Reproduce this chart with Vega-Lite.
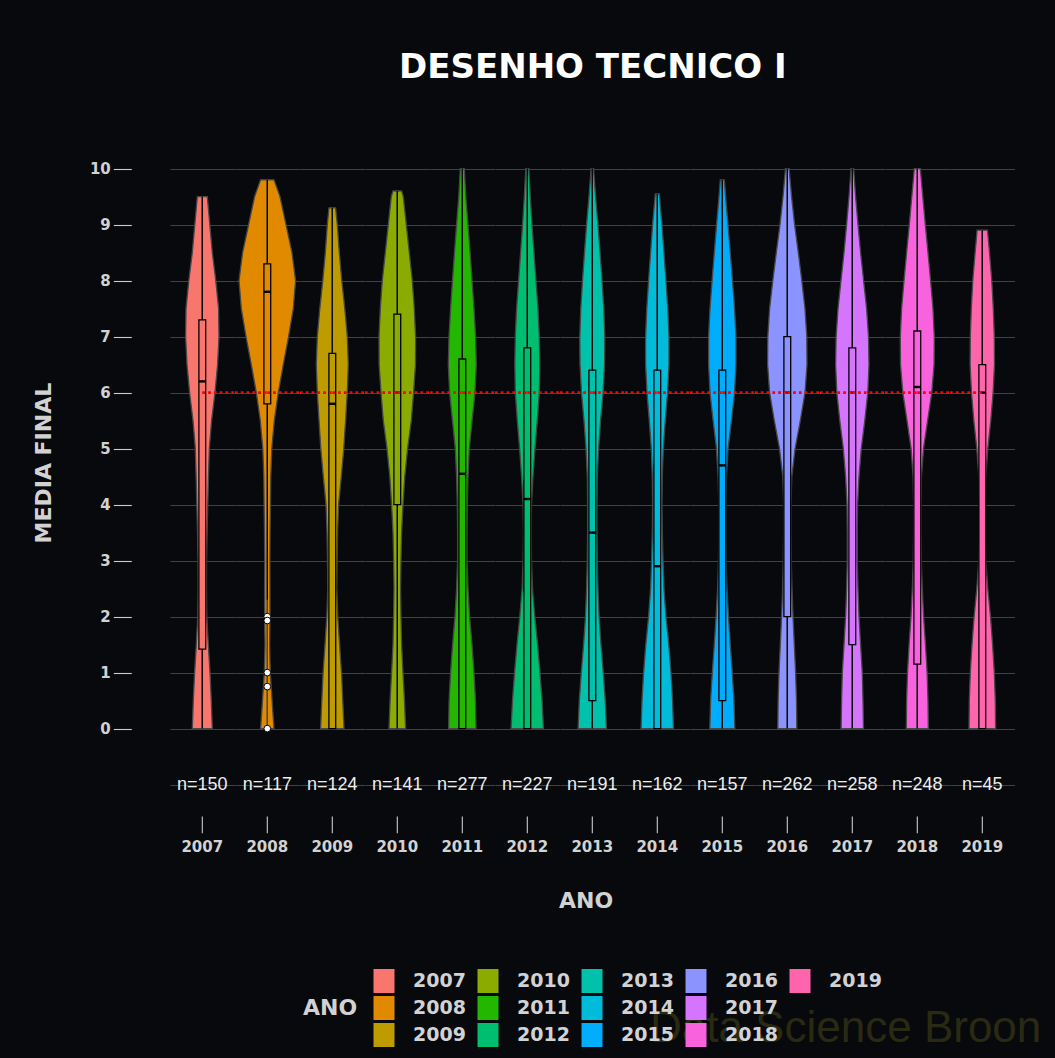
{
  "$schema": "https://vega.github.io/schema/vega-lite/v6.json",
  "background": "#07090c",
  "padding": {"left": 32, "top": 51, "right": 40, "bottom": 12},
  "title": {"text": "DESENHO TECNICO I", "font": "DejaVu Sans", "fontSize": 34, "fontWeight": "bold", "color": "#ffffff", "anchor": "middle", "dx": 56, "offset": 50},
  "data": {"values": [
    {"k":"b","year":2007,"lo":0,"q1":1.42,"med":6.2,"q3":7.3,"hi":9.5,"n":"n=150"},
    {"k":"b","year":2008,"lo":2.3,"q1":5.8,"med":7.8,"q3":8.3,"hi":9.8,"n":"n=117"},
    {"k":"b","year":2009,"lo":0,"q1":0,"med":5.8,"q3":6.7,"hi":9.3,"n":"n=124"},
    {"k":"b","year":2010,"lo":0,"q1":4.0,"med":6.0,"q3":7.4,"hi":9.6,"n":"n=141"},
    {"k":"b","year":2011,"lo":0,"q1":0,"med":4.55,"q3":6.6,"hi":10,"n":"n=277"},
    {"k":"b","year":2012,"lo":0,"q1":0,"med":4.1,"q3":6.8,"hi":10,"n":"n=227"},
    {"k":"b","year":2013,"lo":0,"q1":0.5,"med":3.5,"q3":6.4,"hi":10,"n":"n=191"},
    {"k":"b","year":2014,"lo":0,"q1":0,"med":2.9,"q3":6.4,"hi":9.55,"n":"n=162"},
    {"k":"b","year":2015,"lo":0,"q1":0.5,"med":4.7,"q3":6.4,"hi":9.8,"n":"n=157"},
    {"k":"b","year":2016,"lo":0,"q1":2.0,"med":6.0,"q3":7.0,"hi":10,"n":"n=262"},
    {"k":"b","year":2017,"lo":0,"q1":1.5,"med":6.0,"q3":6.8,"hi":10,"n":"n=258"},
    {"k":"b","year":2018,"lo":0,"q1":1.15,"med":6.1,"q3":7.1,"hi":10,"n":"n=248"},
    {"k":"b","year":2019,"lo":0,"q1":0,"med":6.0,"q3":6.5,"hi":8.9,"n":"n=45"},
    {"k":"o","year":2008,"out":2.0},
    {"k":"o","year":2008,"out":1.93},
    {"k":"o","year":2008,"out":1.0},
    {"k":"o","year":2008,"out":0.75},
    {"k":"o","year":2008,"out":0},
    {"k":"v","year":2007,"v":0,"d":20},{"k":"v","year":2007,"v":0.5,"d":18},{"k":"v","year":2007,"v":1,"d":15.4},{"k":"v","year":2007,"v":1.5,"d":12},{"k":"v","year":2007,"v":2,"d":9},{"k":"v","year":2007,"v":2.5,"d":8.4},{"k":"v","year":2007,"v":3,"d":8.6},{"k":"v","year":2007,"v":3.5,"d":9.6},{"k":"v","year":2007,"v":4,"d":11},{"k":"v","year":2007,"v":4.5,"d":12.4},{"k":"v","year":2007,"v":5,"d":14},{"k":"v","year":2007,"v":5.5,"d":18.6},{"k":"v","year":2007,"v":6,"d":25.4},{"k":"v","year":2007,"v":6.5,"d":30.6},{"k":"v","year":2007,"v":7,"d":33.4},{"k":"v","year":2007,"v":7.5,"d":32.6},{"k":"v","year":2007,"v":8,"d":27},{"k":"v","year":2007,"v":8.5,"d":20},{"k":"v","year":2007,"v":9,"d":15},{"k":"v","year":2007,"v":9.5,"d":10},
    {"k":"v","year":2008,"v":0,"d":13.4},{"k":"v","year":2008,"v":0.5,"d":9.6},{"k":"v","year":2008,"v":1,"d":6},{"k":"v","year":2008,"v":1.5,"d":4.6},{"k":"v","year":2008,"v":2,"d":5.4},{"k":"v","year":2008,"v":2.5,"d":5.4},{"k":"v","year":2008,"v":3,"d":5.2},{"k":"v","year":2008,"v":3.5,"d":5.6},{"k":"v","year":2008,"v":4,"d":6.4},{"k":"v","year":2008,"v":4.5,"d":7},{"k":"v","year":2008,"v":5,"d":9},{"k":"v","year":2008,"v":5.5,"d":14},{"k":"v","year":2008,"v":6,"d":22},{"k":"v","year":2008,"v":6.5,"d":32},{"k":"v","year":2008,"v":7,"d":42.6},{"k":"v","year":2008,"v":7.5,"d":52},{"k":"v","year":2008,"v":8,"d":56.6},{"k":"v","year":2008,"v":8.5,"d":49.4},{"k":"v","year":2008,"v":9,"d":37.4},{"k":"v","year":2008,"v":9.5,"d":25.4},{"k":"v","year":2008,"v":9.8,"d":13.4},
    {"k":"v","year":2009,"v":0,"d":23.4},{"k":"v","year":2009,"v":0.5,"d":21},{"k":"v","year":2009,"v":1,"d":18.4},{"k":"v","year":2009,"v":1.5,"d":14.6},{"k":"v","year":2009,"v":2,"d":11},{"k":"v","year":2009,"v":2.5,"d":9},{"k":"v","year":2009,"v":3,"d":9.6},{"k":"v","year":2009,"v":3.5,"d":10.6},{"k":"v","year":2009,"v":4,"d":12.6},{"k":"v","year":2009,"v":4.5,"d":18},{"k":"v","year":2009,"v":5,"d":23},{"k":"v","year":2009,"v":5.5,"d":26.6},{"k":"v","year":2009,"v":6,"d":30},{"k":"v","year":2009,"v":6.5,"d":32},{"k":"v","year":2009,"v":7,"d":30},{"k":"v","year":2009,"v":7.5,"d":25},{"k":"v","year":2009,"v":8,"d":19},{"k":"v","year":2009,"v":8.5,"d":14},{"k":"v","year":2009,"v":9,"d":10},{"k":"v","year":2009,"v":9.3,"d":6.6},
    {"k":"v","year":2010,"v":0,"d":16.6},{"k":"v","year":2010,"v":0.5,"d":14.4},{"k":"v","year":2010,"v":1,"d":11.4},{"k":"v","year":2010,"v":1.5,"d":8.6},{"k":"v","year":2010,"v":2,"d":7.4},{"k":"v","year":2010,"v":2.5,"d":6.6},{"k":"v","year":2010,"v":3,"d":7.4},{"k":"v","year":2010,"v":3.5,"d":8.6},{"k":"v","year":2010,"v":4,"d":11.4},{"k":"v","year":2010,"v":4.5,"d":15},{"k":"v","year":2010,"v":5,"d":20.6},{"k":"v","year":2010,"v":5.5,"d":28},{"k":"v","year":2010,"v":6,"d":32.6},{"k":"v","year":2010,"v":6.5,"d":36.4},{"k":"v","year":2010,"v":7,"d":36.6},{"k":"v","year":2010,"v":7.5,"d":34},{"k":"v","year":2010,"v":8,"d":30},{"k":"v","year":2010,"v":8.5,"d":24},{"k":"v","year":2010,"v":9,"d":18},{"k":"v","year":2010,"v":9.5,"d":12},{"k":"v","year":2010,"v":9.6,"d":8.6},
    {"k":"v","year":2011,"v":0,"d":27.4},{"k":"v","year":2011,"v":0.5,"d":26.4},{"k":"v","year":2011,"v":1,"d":23.4},{"k":"v","year":2011,"v":1.5,"d":19.4},{"k":"v","year":2011,"v":2,"d":14.6},{"k":"v","year":2011,"v":2.5,"d":11.4},{"k":"v","year":2011,"v":3,"d":9.4},{"k":"v","year":2011,"v":3.5,"d":9.4},{"k":"v","year":2011,"v":4,"d":10},{"k":"v","year":2011,"v":4.5,"d":11.4},{"k":"v","year":2011,"v":5,"d":14},{"k":"v","year":2011,"v":5.5,"d":19.6},{"k":"v","year":2011,"v":6,"d":25.4},{"k":"v","year":2011,"v":6.5,"d":28},{"k":"v","year":2011,"v":7,"d":26.6},{"k":"v","year":2011,"v":7.5,"d":23.4},{"k":"v","year":2011,"v":8,"d":19.6},{"k":"v","year":2011,"v":8.5,"d":15.6},{"k":"v","year":2011,"v":9,"d":11.4},{"k":"v","year":2011,"v":9.5,"d":7},{"k":"v","year":2011,"v":10,"d":4},
    {"k":"v","year":2012,"v":0,"d":32.4},{"k":"v","year":2012,"v":0.5,"d":29.6},{"k":"v","year":2012,"v":1,"d":25.4},{"k":"v","year":2012,"v":1.5,"d":20.6},{"k":"v","year":2012,"v":2,"d":15},{"k":"v","year":2012,"v":2.5,"d":10.4},{"k":"v","year":2012,"v":3,"d":8.4},{"k":"v","year":2012,"v":3.5,"d":7.6},{"k":"v","year":2012,"v":4,"d":8.4},{"k":"v","year":2012,"v":4.5,"d":11.4},{"k":"v","year":2012,"v":5,"d":15.4},{"k":"v","year":2012,"v":5.5,"d":20},{"k":"v","year":2012,"v":6,"d":24},{"k":"v","year":2012,"v":6.5,"d":25},{"k":"v","year":2012,"v":7,"d":24},{"k":"v","year":2012,"v":7.5,"d":21.4},{"k":"v","year":2012,"v":8,"d":17.4},{"k":"v","year":2012,"v":8.5,"d":13.4},{"k":"v","year":2012,"v":9,"d":9.4},{"k":"v","year":2012,"v":9.5,"d":6},{"k":"v","year":2012,"v":10,"d":3},
    {"k":"v","year":2013,"v":0,"d":28.4},{"k":"v","year":2013,"v":0.5,"d":26},{"k":"v","year":2013,"v":1,"d":22},{"k":"v","year":2013,"v":1.5,"d":17.4},{"k":"v","year":2013,"v":2,"d":13.6},{"k":"v","year":2013,"v":2.5,"d":11.4},{"k":"v","year":2013,"v":3,"d":10},{"k":"v","year":2013,"v":3.5,"d":9.4},{"k":"v","year":2013,"v":4,"d":9.4},{"k":"v","year":2013,"v":4.5,"d":10},{"k":"v","year":2013,"v":5,"d":12.6},{"k":"v","year":2013,"v":5.5,"d":16.6},{"k":"v","year":2013,"v":6,"d":21.6},{"k":"v","year":2013,"v":6.5,"d":24.6},{"k":"v","year":2013,"v":7,"d":25},{"k":"v","year":2013,"v":7.5,"d":23},{"k":"v","year":2013,"v":8,"d":19.6},{"k":"v","year":2013,"v":8.5,"d":15.6},{"k":"v","year":2013,"v":9,"d":11.4},{"k":"v","year":2013,"v":9.5,"d":6.6},{"k":"v","year":2013,"v":10,"d":2.4},
    {"k":"v","year":2014,"v":0,"d":32.4},{"k":"v","year":2014,"v":0.5,"d":30.6},{"k":"v","year":2014,"v":1,"d":27.4},{"k":"v","year":2014,"v":1.5,"d":23},{"k":"v","year":2014,"v":2,"d":17.4},{"k":"v","year":2014,"v":2.5,"d":13.4},{"k":"v","year":2014,"v":3,"d":11.4},{"k":"v","year":2014,"v":3.5,"d":10},{"k":"v","year":2014,"v":4,"d":9.4},{"k":"v","year":2014,"v":4.5,"d":10},{"k":"v","year":2014,"v":5,"d":12},{"k":"v","year":2014,"v":5.5,"d":16},{"k":"v","year":2014,"v":6,"d":20.6},{"k":"v","year":2014,"v":6.5,"d":23.4},{"k":"v","year":2014,"v":7,"d":23.4},{"k":"v","year":2014,"v":7.5,"d":21},{"k":"v","year":2014,"v":8,"d":17.4},{"k":"v","year":2014,"v":8.5,"d":13.4},{"k":"v","year":2014,"v":9,"d":9.4},{"k":"v","year":2014,"v":9.55,"d":4},
    {"k":"v","year":2015,"v":0,"d":25},{"k":"v","year":2015,"v":0.5,"d":23.4},{"k":"v","year":2015,"v":1,"d":20},{"k":"v","year":2015,"v":1.5,"d":16},{"k":"v","year":2015,"v":2,"d":12.4},{"k":"v","year":2015,"v":2.5,"d":9.4},{"k":"v","year":2015,"v":3,"d":7.6},{"k":"v","year":2015,"v":3.5,"d":7},{"k":"v","year":2015,"v":4,"d":7},{"k":"v","year":2015,"v":4.5,"d":8.4},{"k":"v","year":2015,"v":5,"d":11.6},{"k":"v","year":2015,"v":5.5,"d":18.4},{"k":"v","year":2015,"v":6,"d":24.6},{"k":"v","year":2015,"v":6.5,"d":27.4},{"k":"v","year":2015,"v":7,"d":27.4},{"k":"v","year":2015,"v":7.5,"d":24.6},{"k":"v","year":2015,"v":8,"d":20.4},{"k":"v","year":2015,"v":8.5,"d":16},{"k":"v","year":2015,"v":9,"d":11.4},{"k":"v","year":2015,"v":9.5,"d":6.6},{"k":"v","year":2015,"v":9.8,"d":4},
    {"k":"v","year":2016,"v":0,"d":19},{"k":"v","year":2016,"v":0.5,"d":18.4},{"k":"v","year":2016,"v":1,"d":16.6},{"k":"v","year":2016,"v":1.5,"d":14},{"k":"v","year":2016,"v":2,"d":11.4},{"k":"v","year":2016,"v":2.5,"d":9.4},{"k":"v","year":2016,"v":3,"d":8},{"k":"v","year":2016,"v":3.5,"d":7.4},{"k":"v","year":2016,"v":4,"d":7.4},{"k":"v","year":2016,"v":4.5,"d":9},{"k":"v","year":2016,"v":5,"d":15.6},{"k":"v","year":2016,"v":5.5,"d":26},{"k":"v","year":2016,"v":6,"d":35.4},{"k":"v","year":2016,"v":6.5,"d":39.4},{"k":"v","year":2016,"v":7,"d":39},{"k":"v","year":2016,"v":7.5,"d":35.4},{"k":"v","year":2016,"v":8,"d":29},{"k":"v","year":2016,"v":8.5,"d":22},{"k":"v","year":2016,"v":9,"d":14.6},{"k":"v","year":2016,"v":9.5,"d":8.6},{"k":"v","year":2016,"v":10,"d":3.6},
    {"k":"v","year":2017,"v":0,"d":22.4},{"k":"v","year":2017,"v":0.5,"d":21.4},{"k":"v","year":2017,"v":1,"d":20},{"k":"v","year":2017,"v":1.5,"d":16.6},{"k":"v","year":2017,"v":2,"d":13.4},{"k":"v","year":2017,"v":2.5,"d":11.4},{"k":"v","year":2017,"v":3,"d":10},{"k":"v","year":2017,"v":3.5,"d":10},{"k":"v","year":2017,"v":4,"d":10.6},{"k":"v","year":2017,"v":4.5,"d":13.4},{"k":"v","year":2017,"v":5,"d":18},{"k":"v","year":2017,"v":5.5,"d":25},{"k":"v","year":2017,"v":6,"d":31},{"k":"v","year":2017,"v":6.5,"d":33.4},{"k":"v","year":2017,"v":7,"d":32.4},{"k":"v","year":2017,"v":7.5,"d":28.6},{"k":"v","year":2017,"v":8,"d":22.6},{"k":"v","year":2017,"v":8.5,"d":16.6},{"k":"v","year":2017,"v":9,"d":11.4},{"k":"v","year":2017,"v":9.5,"d":6.6},{"k":"v","year":2017,"v":10,"d":2.6},
    {"k":"v","year":2018,"v":0,"d":22},{"k":"v","year":2018,"v":0.5,"d":21.4},{"k":"v","year":2018,"v":1,"d":19.6},{"k":"v","year":2018,"v":1.5,"d":16.4},{"k":"v","year":2018,"v":2,"d":12.6},{"k":"v","year":2018,"v":2.5,"d":10},{"k":"v","year":2018,"v":3,"d":8},{"k":"v","year":2018,"v":3.5,"d":7.4},{"k":"v","year":2018,"v":4,"d":7.4},{"k":"v","year":2018,"v":4.5,"d":8.4},{"k":"v","year":2018,"v":5,"d":12.4},{"k":"v","year":2018,"v":5.5,"d":20.6},{"k":"v","year":2018,"v":6,"d":29},{"k":"v","year":2018,"v":6.5,"d":33.6},{"k":"v","year":2018,"v":7,"d":34},{"k":"v","year":2018,"v":7.5,"d":31.4},{"k":"v","year":2018,"v":8,"d":26.6},{"k":"v","year":2018,"v":8.5,"d":21.4},{"k":"v","year":2018,"v":9,"d":16},{"k":"v","year":2018,"v":9.5,"d":11},{"k":"v","year":2018,"v":10,"d":6},
    {"k":"v","year":2019,"v":0,"d":26.6},{"k":"v","year":2019,"v":0.5,"d":26},{"k":"v","year":2019,"v":1,"d":24},{"k":"v","year":2019,"v":1.5,"d":20.6},{"k":"v","year":2019,"v":2,"d":16.4},{"k":"v","year":2019,"v":2.5,"d":11},{"k":"v","year":2019,"v":3,"d":7},{"k":"v","year":2019,"v":3.5,"d":5.6},{"k":"v","year":2019,"v":4,"d":5.6},{"k":"v","year":2019,"v":4.5,"d":7},{"k":"v","year":2019,"v":5,"d":11},{"k":"v","year":2019,"v":5.5,"d":17},{"k":"v","year":2019,"v":6,"d":21.6},{"k":"v","year":2019,"v":6.5,"d":24.4},{"k":"v","year":2019,"v":7,"d":24},{"k":"v","year":2019,"v":7.5,"d":22},{"k":"v","year":2019,"v":8,"d":19},{"k":"v","year":2019,"v":8.5,"d":14.4},{"k":"v","year":2019,"v":8.9,"d":10.4}
  ]},
  "facet": {"column": {"field": "year", "type": "ordinal",
    "header": {"title": "ANO", "titleOrient": "bottom", "titleFont": "DejaVu Sans", "titleFontSize": 22, "titleFontWeight": "bold", "titleColor": "#d2d2d2", "titlePadding": 26,
      "labelOrient": "bottom", "labelFont": "DejaVu Sans", "labelFontSize": 15, "labelFontWeight": "bold", "labelColor": "#d2d2d2", "labelPadding": 49}}},
  "spacing": 0,
  "bounds": "flush",
  "spec": {
    "width": 64.6,
    "height": 655.2,
    "resolve": {"scale": {"x": "independent"}},
    "layer": [
      {
        "transform": [{"filter": "datum.k === 'b' && datum.year === 2019"}],
        "mark": {"type": "text", "font": "Liberation Sans", "fontSize": 44, "color": "#2a2a12", "baseline": "alphabetic", "align": "right"},
        "encoding": {
          "x": {"datum": 59, "type": "quantitative", "scale": {"domain": [-32.3, 32.3], "nice": false, "zero": false}, "axis": null},
          "y": {"datum": -5.6, "type": "quantitative"},
          "text": {"value": "Data Science Broon"}
        }
      },
      {
        "transform": [{"filter": "datum.k === 'v'"}],
        "mark": {"type": "area", "orient": "horizontal", "stroke": "#474747", "strokeWidth": 1.3, "fillOpacity": 1},
        "encoding": {
          "y": {"field": "v", "type": "quantitative",
            "scale": {"domain": [-1.1, 10.6], "nice": false, "zero": false},
            "axis": {
              "values": [-1,-0.5,0,0.5,1,1.5,2,2.5,3,3.5,4,4.5,5,5.5,6,6.5,7,7.5,8,8.5,9,9.5,10,10.5],
              "labelExpr": "(datum.value % 1 === 0 && datum.value >= 0 && datum.value <= 10) ? ('' + datum.value) : ''",
              "tickOpacity": {"condition": {"test": "datum.value % 1 === 0 && datum.value >= 0 && datum.value <= 10", "value": 1}, "value": 0},
              "tickSize": 18, "tickColor": "#cccccc", "tickWidth": 1.1, "offset": 38.7,
              "labelPadding": 3, "labelFont": "DejaVu Sans", "labelFontSize": 15, "labelFontWeight": "bold", "labelColor": "#d2d2d2",
              "domain": false, "grid": true, "gridColor": "#424242", "gridWidth": 1.1,
              "title": "MEDIA FINAL", "titleFont": "DejaVu Sans", "titleFontSize": 22, "titleFontWeight": "bold", "titleColor": "#d2d2d2", "titlePadding": 34
            }},
          "x": {"field": "d", "type": "quantitative",
            "scale": {"domain": [-64.6, 64.6], "nice": false, "zero": false, "reverse": true}, "axis": null},
          "x2": {"datum": 0},
          "fill": {"field": "year", "type": "nominal",
            "scale": {"domain": [2007,2010,2013,2016,2019,2008,2011,2014,2017,"",2009,2012,2015,2018],
                      "range": ["#F8766D","#8CAB00","#00C1AB","#8B93FF","#FF65AC","#E18A00","#24B700","#00BBDA","#D575FE","transparent","#BE9C00","#00BE70","#00ACFC","#F962DD"]},
            "legend": {"orient": "none", "legendX": 133, "legendY": 834, "direction": "horizontal", "columns": 5,
              "title": "ANO", "titleOrient": "left", "titleAnchor": "middle", "titleFont": "DejaVu Sans", "titleFontSize": 22, "titleFontWeight": "bold", "titleColor": "#d2d2d2", "titlePadding": 14,
              "labelFont": "DejaVu Sans", "labelFontSize": 19, "labelFontWeight": "bold", "labelColor": "#d2d2d2", "labelOffset": 17, "labelBaseline": "middle",
              "symbolType": "M-0.875,-1H0.875V1H-0.875Z", "symbolSize": 576, "symbolStrokeWidth": 0, "symbolOpacity": 1,
              "columnPadding": 10, "rowPadding": 3}}
        }
      },
      {
        "transform": [{"filter": "datum.k === 'v'"}],
        "mark": {"type": "area", "orient": "horizontal", "stroke": "#474747", "strokeWidth": 1.3, "fillOpacity": 1},
        "encoding": {
          "y": {"field": "v", "type": "quantitative"},
          "x": {"field": "d", "type": "quantitative",
            "scale": {"domain": [-64.6, 64.6], "nice": false, "zero": false}, "axis": null},
          "x2": {"datum": 0},
          "fill": {"field": "year", "type": "nominal"}
        }
      },
      {
        "transform": [{"filter": "datum.k === 'b'"}],
        "mark": {"type": "rule", "color": "#000000", "strokeWidth": 1.1},
        "encoding": {
          "x": {"datum": 0, "type": "quantitative", "scale": {"domain": [-32.3, 32.3], "nice": false, "zero": false}, "axis": null},
          "y": {"field": "lo", "type": "quantitative"},
          "y2": {"field": "hi"}
        }
      },
      {
        "transform": [{"filter": "datum.k === 'b'"}],
        "mark": {"type": "rule", "color": "#cccccc", "strokeWidth": 1.1},
        "encoding": {
          "x": {"datum": 0, "type": "quantitative", "scale": {"domain": [-32.3, 32.3], "nice": false, "zero": false}, "axis": null},
          "y": {"datum": -1.57, "type": "quantitative"},
          "y2": {"datum": -1.87}
        }
      },
      {
        "transform": [{"filter": "datum.k === 'b'"}],
        "mark": {"type": "rect", "stroke": "#000000", "strokeWidth": 1.3},
        "encoding": {
          "x": {"datum": -3.4, "type": "quantitative", "scale": {"domain": [-32.3, 32.3], "nice": false, "zero": false}, "axis": null},
          "x2": {"datum": 3.4},
          "y": {"field": "q1", "type": "quantitative"},
          "y2": {"field": "q3"},
          "fill": {"field": "year", "type": "nominal"}
        }
      },
      {
        "transform": [{"filter": "datum.k === 'b'"}],
        "mark": {"type": "rule", "color": "#000000", "strokeWidth": 2.4},
        "encoding": {
          "x": {"datum": -3.4, "type": "quantitative", "scale": {"domain": [-32.3, 32.3], "nice": false, "zero": false}, "axis": null},
          "x2": {"datum": 3.4},
          "y": {"field": "med", "type": "quantitative"}
        }
      },
      {
        "transform": [{"filter": "datum.k === 'o'"}],
        "mark": {"type": "point", "filled": true, "fill": "#ffffff", "stroke": "#000000", "strokeWidth": 1, "size": 45, "opacity": 1},
        "encoding": {
          "x": {"datum": 0, "type": "quantitative", "scale": {"domain": [-32.3, 32.3], "nice": false, "zero": false}, "axis": null},
          "y": {"field": "out", "type": "quantitative"}
        }
      },
      {
        "transform": [{"filter": "datum.k === 'b' && datum.year !== 2007"}],
        "mark": {"type": "rule", "color": "#ff0000", "strokeWidth": 2.7, "strokeDash": [2.7, 3.1]},
        "encoding": {
          "x": {"datum": -32.3, "type": "quantitative", "scale": {"domain": [-32.3, 32.3], "nice": false, "zero": false}, "axis": null},
          "x2": {"datum": 0},
          "y": {"datum": 6, "type": "quantitative"}
        }
      },
      {
        "transform": [{"filter": "datum.k === 'b' && datum.year !== 2019"}],
        "mark": {"type": "rule", "color": "#ff0000", "strokeWidth": 2.7, "strokeDash": [2.7, 3.1]},
        "encoding": {
          "x": {"datum": 0, "type": "quantitative", "scale": {"domain": [-32.3, 32.3], "nice": false, "zero": false}, "axis": null},
          "x2": {"datum": 32.3},
          "y": {"datum": 6, "type": "quantitative"}
        }
      },
      {
        "transform": [{"filter": "datum.k === 'b'"}],
        "mark": {"type": "text", "font": "Liberation Sans", "fontSize": 18, "color": "#eeeeee", "baseline": "middle", "align": "center"},
        "encoding": {
          "x": {"datum": 0, "type": "quantitative", "scale": {"domain": [-32.3, 32.3], "nice": false, "zero": false}, "axis": null},
          "y": {"datum": -1, "type": "quantitative"},
          "text": {"field": "n"}
        }
      }
    ]
  },
  "config": {"view": {"stroke": null}}
}
